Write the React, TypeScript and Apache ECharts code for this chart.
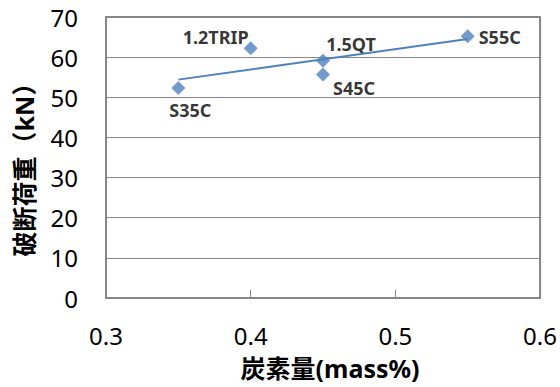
import React, { useEffect, useRef } from "react";
import * as echarts from "echarts";

const names = ["S35C", "1.2TRIP", "1.5QT", "S45C", "S55C"];
const carbon = [0.35, 0.4, 0.45, 0.45, 0.55];
const load = [52.3, 62.2, 59.1, 55.7, 65.2];
const trendX = [0.35, 0.55];
const trendY = [54.4, 64.5];
const xTicks = [0.3, 0.4, 0.5, 0.6];
const yTicks = [0, 10, 20, 30, 40, 50, 60, 70];

const labelOffsets: Record<string, [number, number]> = {
  S35C: [12, 22],
  "1.2TRIP": [-35, -11],
  "1.5QT": [28, -17],
  S45C: [31, 14],
  S55C: [32, 1],
};

const FONT = "'Noto Sans', 'Noto Sans CJK JP', sans-serif";
const BLUE = "#4F81BD";
const GRAY = "#868686";

export default function App() {
  const ref = useRef<HTMLDivElement>(null);
  useEffect(() => {
    if (!ref.current) return;
    const chart = echarts.init(ref.current, undefined, { renderer: "svg" });
    chart.setOption({
      animation: false,
      backgroundColor: "#ffffff",
      grid: {
        left: 106,
        right: 18,
        top: 17,
        bottom: 89,
        show: true,
        borderColor: GRAY,
        borderWidth: 2,
        containLabel: false,
      },
      xAxis: {
        type: "value",
        min: xTicks[0],
        max: xTicks[xTicks.length - 1],
        interval: 0.1,
        name: "炭素量(mass%)",
        nameLocation: "middle",
        nameGap: 57,
        nameTextStyle: {
          fontFamily: FONT,
          fontWeight: "bold",
          fontSize: 25,
          color: "#000",
          padding: [0, 0, 0, 14],
        },
        axisLine: { show: true, lineStyle: { color: GRAY, width: 2 } },
        axisTick: { show: true, inside: true, length: 8, lineStyle: { color: GRAY, width: 1 } },
        axisLabel: {
          fontFamily: FONT,
          fontSize: 24,
          color: "#000",
          margin: 25,
          formatter: (v: number) => v.toFixed(1),
        },
        splitLine: { show: false },
      },
      yAxis: {
        type: "value",
        min: yTicks[0],
        max: yTicks[yTicks.length - 1],
        interval: 10,
        name: "破断荷重（kN）",
        nameLocation: "middle",
        nameGap: 70,
        nameTextStyle: {
          fontFamily: FONT,
          fontWeight: "bold",
          fontSize: 25,
          color: "#000",
          padding: [0, 12, 0, 0],
        },
        axisLine: { show: true, lineStyle: { color: GRAY, width: 2 } },
        axisTick: { show: false },
        axisLabel: {
          fontFamily: FONT,
          fontSize: 24,
          color: "#000",
          margin: 28,
        },
        splitLine: { show: true, lineStyle: { color: GRAY, width: 1 } },
      },
      series: [
        {
          type: "scatter",
          symbol: "diamond",
          symbolSize: 14,
          itemStyle: { color: BLUE },
          z: 3,
          data: names.map((n, i) => ({
            name: n,
            value: [carbon[i], load[i]],
            label: {
              show: true,
              position: "inside",
              offset: labelOffsets[n],
              formatter: n,
              fontFamily: FONT,
              fontWeight: "bold",
              fontSize: 18,
              color: "#000",
            },
          })),
        },
        {
          type: "line",
          symbol: "none",
          z: 4,
          lineStyle: { color: BLUE, width: 2 },
          data: trendX.map((x, i) => [x, trendY[i]]),
        },
      ],
    });
    return () => chart.dispose();
  }, []);
  return (
    <div
      ref={ref}
      style={{ position: "fixed", left: 0, top: 0, width: 560, height: 387 }}
    />
  );
}
